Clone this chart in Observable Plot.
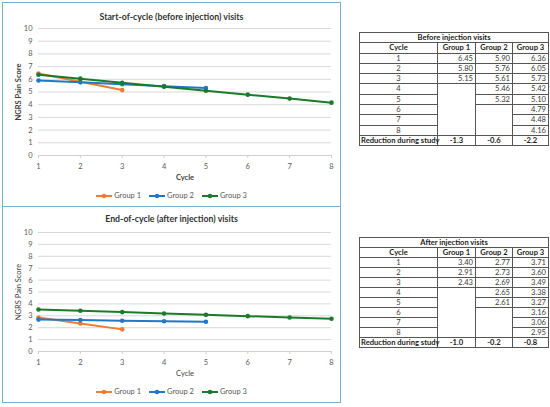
<!DOCTYPE html>
<html>
<head>
<meta charset="utf-8">
<script src="https://cdn.jsdelivr.net/npm/d3@7"></script>
<script src="https://cdn.jsdelivr.net/npm/@observablehq/plot@0.6"></script>
<style>
  body { margin: 0; background: #fff; font-family: Lato, "Open Sans", sans-serif; }
  #page { position: relative; width: 550px; height: 407px; overflow: hidden; }
  .box { position: absolute; box-sizing: border-box; border: 1.5px solid #78b0cc; }
  .title { position: absolute; left: 0; right: 0; text-align: center; font-weight: bold; font-size: 8.8px; color: #333; }
  .plot { position: absolute; left: 0; }
  .legend { position: absolute; left: 0; right: 0; text-align: center; font-size: 7.5px; color: #595959; }
  .legend span.item { display: inline-flex; align-items: center; margin: 0 4px; }
  table { position: absolute; border-collapse: collapse; table-layout: fixed; font-size: 7.6px; color: #3a3a3a; }
  td { border: 1px solid #555; padding: 0 2px; white-space: nowrap; }
  td.c { text-align: center; }
  td.r { text-align: right; }
  tr.b td { font-weight: bold; color: #222; }
</style>
</head>
<body>
<div id="page"></div>
<script>
// values
const cycles = [1, 2, 3, 4, 5, 6, 7, 8]
const groups = ["Group 1", "Group 2", "Group 3"]
const colors = ["#f07b33", "#1f78c8", "#1b7a2b"]

// before injection (table and plot)
const beforeG1 = [6.45, 5.80, 5.15]
const beforeG2 = [5.90, 5.76, 5.61, 5.46, 5.32]
const beforeG3 = [6.36, 6.05, 5.73, 5.42, 5.10, 4.79, 4.48, 4.16]
const beforeReduction = ["-1.3", "-0.6", "-2.2"]

// after injection, table values
const afterG1 = [3.40, 2.91, 2.43]
const afterG2 = [2.77, 2.73, 2.69, 2.65, 2.61]
const afterG3 = [3.71, 3.60, 3.49, 3.38, 3.27, 3.16, 3.06, 2.95]
const afterReduction = ["-1.0", "-0.2", "-0.8"]

// after injection, as drawn in the chart
const afterPlotG1 = [2.86, 2.36, 1.86]
const afterPlotG2 = [2.68, 2.64, 2.59, 2.54, 2.50]
const afterPlotG3 = [3.53, 3.42, 3.31, 3.19, 3.08, 2.97, 2.86, 2.75]

const page = document.getElementById('page')

function toRows(series) {
  return series.flatMap((vals, i) => vals.map((v, j) => ({cycle: cycles[j], value: v, group: groups[i]})))
}

function makeChart(opts) {
  const box = document.createElement('div')
  box.className = 'box'
  Object.assign(box.style, {left: opts.left + 'px', top: opts.top + 'px', width: opts.width + 'px', height: opts.height + 'px'})
  page.appendChild(box)

  const t = document.createElement('div')
  t.className = 'title'
  t.style.top = opts.titleTop + 'px'
  t.textContent = opts.title
  box.appendChild(t)

  const rows = toRows(opts.series)
  const chart = Plot.plot({
    width: opts.width - 2,
    height: opts.plotHeight,
    marginTop: 6,
    marginBottom: 28,
    marginLeft: 35,
    marginRight: 9,
    style: {fontFamily: 'Lato, sans-serif', fontSize: '7.5px', color: '#595959', background: 'transparent'},
    x: {domain: [1, 8]},
    y: {domain: [0, 10]},
    color: {domain: groups, range: colors},
    marks: [
      Plot.gridY(d3.range(0, 11), {stroke: '#d9d9d9', strokeOpacity: 1}),
      Plot.ruleY([0], {stroke: '#d0d0d0'}),
      Plot.axisY({ticks: d3.range(0, 11), tickSize: 0, tickPadding: 6, label: 'NGRS Pain Score', labelAnchor: 'center', labelArrow: 'none', labelOffset: 23}),
      Plot.axisX({ticks: cycles, tickSize: 3, tickPadding: 5, stroke: '#d0d0d0', tickFormat: d3.format('d'), label: 'Cycle', labelAnchor: 'center', labelArrow: 'none', labelOffset: 24}),
      Plot.line(rows, {x: 'cycle', y: 'value', z: 'group', stroke: 'group', strokeWidth: 2}),
      Plot.dot(rows, {x: 'cycle', y: 'value', fill: 'group', r: 2.3})
    ]
  })
  // axis label weights
  d3.select(chart).selectAll('g[aria-label="x-axis label"] text, g[aria-label="y-axis label"] text')
    .style('font-weight', opts.bold ? 'bold' : 'normal').style('fill', '#404040')
  const p = document.createElement('div')
  p.className = 'plot'
  p.style.top = opts.plotTop + 'px'
  p.appendChild(chart)
  box.appendChild(p)

  const lg = document.createElement('div')
  lg.className = 'legend'
  lg.style.top = opts.legendTop + 'px'
  groups.forEach((g, i) => {
    const it = document.createElement('span')
    it.className = 'item'
    it.innerHTML = `<svg width="16" height="6"><line x1="0" x2="16" y1="3" y2="3" stroke="${colors[i]}" stroke-width="2"/><circle cx="8" cy="3" r="2.3" fill="${colors[i]}"/></svg><span style="margin-left:2px">${g}</span>`
    lg.appendChild(it)
  })
  box.appendChild(lg)
}

function makeTable(opts) {
  const tb = document.createElement('table')
  Object.assign(tb.style, {left: opts.left + 'px', top: opts.top + 'px', width: '189px', border: '1.5px solid #222'})
  const widths = [78, 38, 37, 36]
  tb.innerHTML = `<colgroup>${widths.map(w => `<col style="width:${w}px">`).join('')}</colgroup>`
  const rowStyle = tr => { tr.style.height = opts.rowH + 'px'; tr.style.lineHeight = (opts.rowH - 1) + 'px' }
  const head = document.createElement('tr'); head.className = 'b'; rowStyle(head)
  head.innerHTML = `<td class="c" colspan="4">${opts.title}</td>`
  tb.appendChild(head)
  const hdr = document.createElement('tr'); hdr.className = 'b'; rowStyle(hdr)
  hdr.innerHTML = ['Cycle', ...groups].map(s => `<td class="c">${s}</td>`).join('')
  tb.appendChild(hdr)
  cycles.forEach((c, j) => {
    const tr = document.createElement('tr'); rowStyle(tr)
    let html = `<td class="c">${c}</td>`
    opts.series.forEach(vals => {
      const v = vals[j]
      if (v === undefined) {
        const top = vals[j - 1] === undefined ? 'border-top-style:hidden;' : ''
        const bot = j < cycles.length - 1 ? 'border-bottom-style:hidden;' : ''
        html += `<td class="r" style="${top}${bot}"></td>`
      } else {
        html += `<td class="r">${v.toFixed(2)}</td>`
      }
    })
    tr.innerHTML = html
    tb.appendChild(tr)
  })
  const red = document.createElement('tr'); red.className = 'b'; rowStyle(red)
  red.innerHTML = `<td style="padding:0 1px">Reduction during study</td>` + opts.reduction.map(s => `<td class="c">${s}</td>`).join('')
  red.querySelectorAll('td').forEach(td => td.style.borderTop = '1.5px solid #222')
  tb.appendChild(red)
  page.appendChild(tb)
}

makeChart({left: 2, top: 2, width: 339, height: 205, titleTop: 8, title: 'Start-of-cycle (before injection) visits',
  plotTop: 19, plotHeight: 161, legendTop: 188, bold: true,
  series: [beforeG1, beforeG2, beforeG3]})

makeChart({left: 2, top: 206, width: 339, height: 197, titleTop: 6, title: 'End-of-cycle (after injection) visits',
  plotTop: 19, plotHeight: 153, legendTop: 180, bold: false,
  series: [afterPlotG1, afterPlotG2, afterPlotG3]})

makeTable({left: 359, top: 32, rowH: 10.3, title: 'Before injection visits', series: [beforeG1, beforeG2, beforeG3], reduction: beforeReduction})
makeTable({left: 359, top: 237, rowH: 10, title: 'After injection visits', series: [afterG1, afterG2, afterG3], reduction: afterReduction})
</script>
</body>
</html>
